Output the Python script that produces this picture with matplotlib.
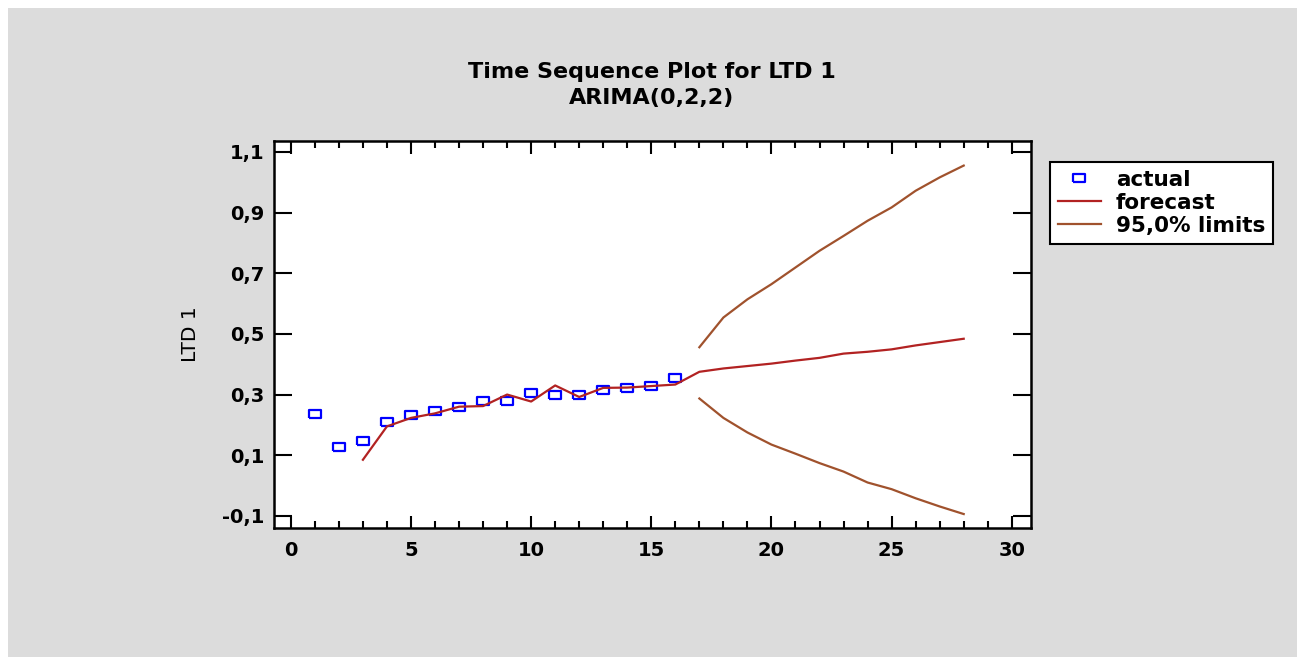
import matplotlib
matplotlib.use("Agg")
import matplotlib.pyplot as plt
from matplotlib.patches import Rectangle
from matplotlib.ticker import FuncFormatter, MultipleLocator

plt.rcParams['font.family'] = ['DejaVu Sans']

# data
t_actual = list(range(1, 17))
actual = [0.236, 0.126, 0.148, 0.208, 0.231, 0.245, 0.258, 0.278,
          0.278, 0.305, 0.300, 0.300, 0.315, 0.322, 0.327, 0.354]

t_fit = list(range(3, 29))
forecast = [0.085, 0.195, 0.223, 0.238, 0.260, 0.262, 0.300, 0.277,
            0.330, 0.292, 0.322, 0.323, 0.328, 0.333,
            0.375, 0.386, 0.394, 0.402, 0.412, 0.421, 0.435, 0.441,
            0.449, 0.462, 0.473, 0.484]

t_lim = list(range(17, 29))
upper = [0.456, 0.554, 0.614, 0.664, 0.719, 0.774, 0.823, 0.873,
         0.917, 0.972, 1.016, 1.055]
lower = [0.287, 0.223, 0.175, 0.135, 0.105, 0.074, 0.046, 0.010,
         -0.012, -0.042, -0.069, -0.094]

W, H = 1301, 657
fig = plt.figure(figsize=(W / 100, H / 100), dpi=100)
fig.patch.set_facecolor("white")
fig.patches.append(Rectangle((8 / W, 0), (1297 - 8) / W, (H - 8) / H,
                             transform=fig.transFigure, facecolor="#dcdcdc",
                             edgecolor="none", zorder=-10))

ax = fig.add_axes([274 / W, 1 - 528 / H, (1031 - 274) / W, (528 - 141) / H])
ax.set_facecolor("white")

# slightly flat square like the original marker
box = [(-1, -0.7), (1, -0.7), (1, 0.7), (-1, 0.7), (-1, -0.7)]
ax.plot(t_actual, actual, linestyle="none", marker=box, markersize=8,
        markerfacecolor="none", markeredgecolor="#0000ff", markeredgewidth=1.6,
        label="actual")
ax.plot(t_fit, forecast, color="#b22222", lw=1.6, label="forecast")
ax.plot(t_lim, upper, color="#a0522d", lw=1.6, label="95,0% limits")
ax.plot(t_lim, lower, color="#a0522d", lw=1.6)

ax.set_xlim(-0.7, 30.8)
ax.set_ylim(-0.14, 1.136)
ax.xaxis.set_major_locator(MultipleLocator(5))
ax.xaxis.set_minor_locator(MultipleLocator(1))
ax.set_yticks([-0.1, 0.1, 0.3, 0.5, 0.7, 0.9, 1.1])
ax.yaxis.set_major_formatter(FuncFormatter(lambda v, p: ("%.1f" % v).replace(".", ",")))

ax.tick_params(which="both", direction="in", top=True, right=True, width=1.5,
               labelsize=14, colors="black")
ax.tick_params(axis="x", which="major", length=9, pad=9)
ax.tick_params(axis="x", which="minor", length=5)
ax.tick_params(axis="y", which="major", length=13, pad=7)
for lab in ax.get_xticklabels() + ax.get_yticklabels():
    lab.set_fontweight("bold")
for s in ax.spines.values():
    s.set_linewidth(1.8)

ax.set_ylabel("LTD 1", fontsize=14.5, labelpad=16)

fig.text(652 / W, 1 - 72 / H, "Time Sequence Plot for LTD 1", ha="center",
         va="center", fontsize=16, fontweight="bold")
fig.text(652 / W, 1 - 98 / H, "ARIMA(0,2,2)", ha="center", va="center",
         fontsize=16, fontweight="bold")

leg = fig.legend(loc="upper left", bbox_to_anchor=(1050 / W, 1 - 162 / H),
                 frameon=True, fancybox=False, fontsize=15.5, handlelength=2.0,
                 borderpad=0.35, labelspacing=0.15, handletextpad=0.7,
                 borderaxespad=0, framealpha=1)
leg.get_frame().set_edgecolor("black")
leg.get_frame().set_linewidth(1.5)
for txt in leg.get_texts():
    txt.set_fontweight("bold")

fig.savefig("out.png", dpi=100)
